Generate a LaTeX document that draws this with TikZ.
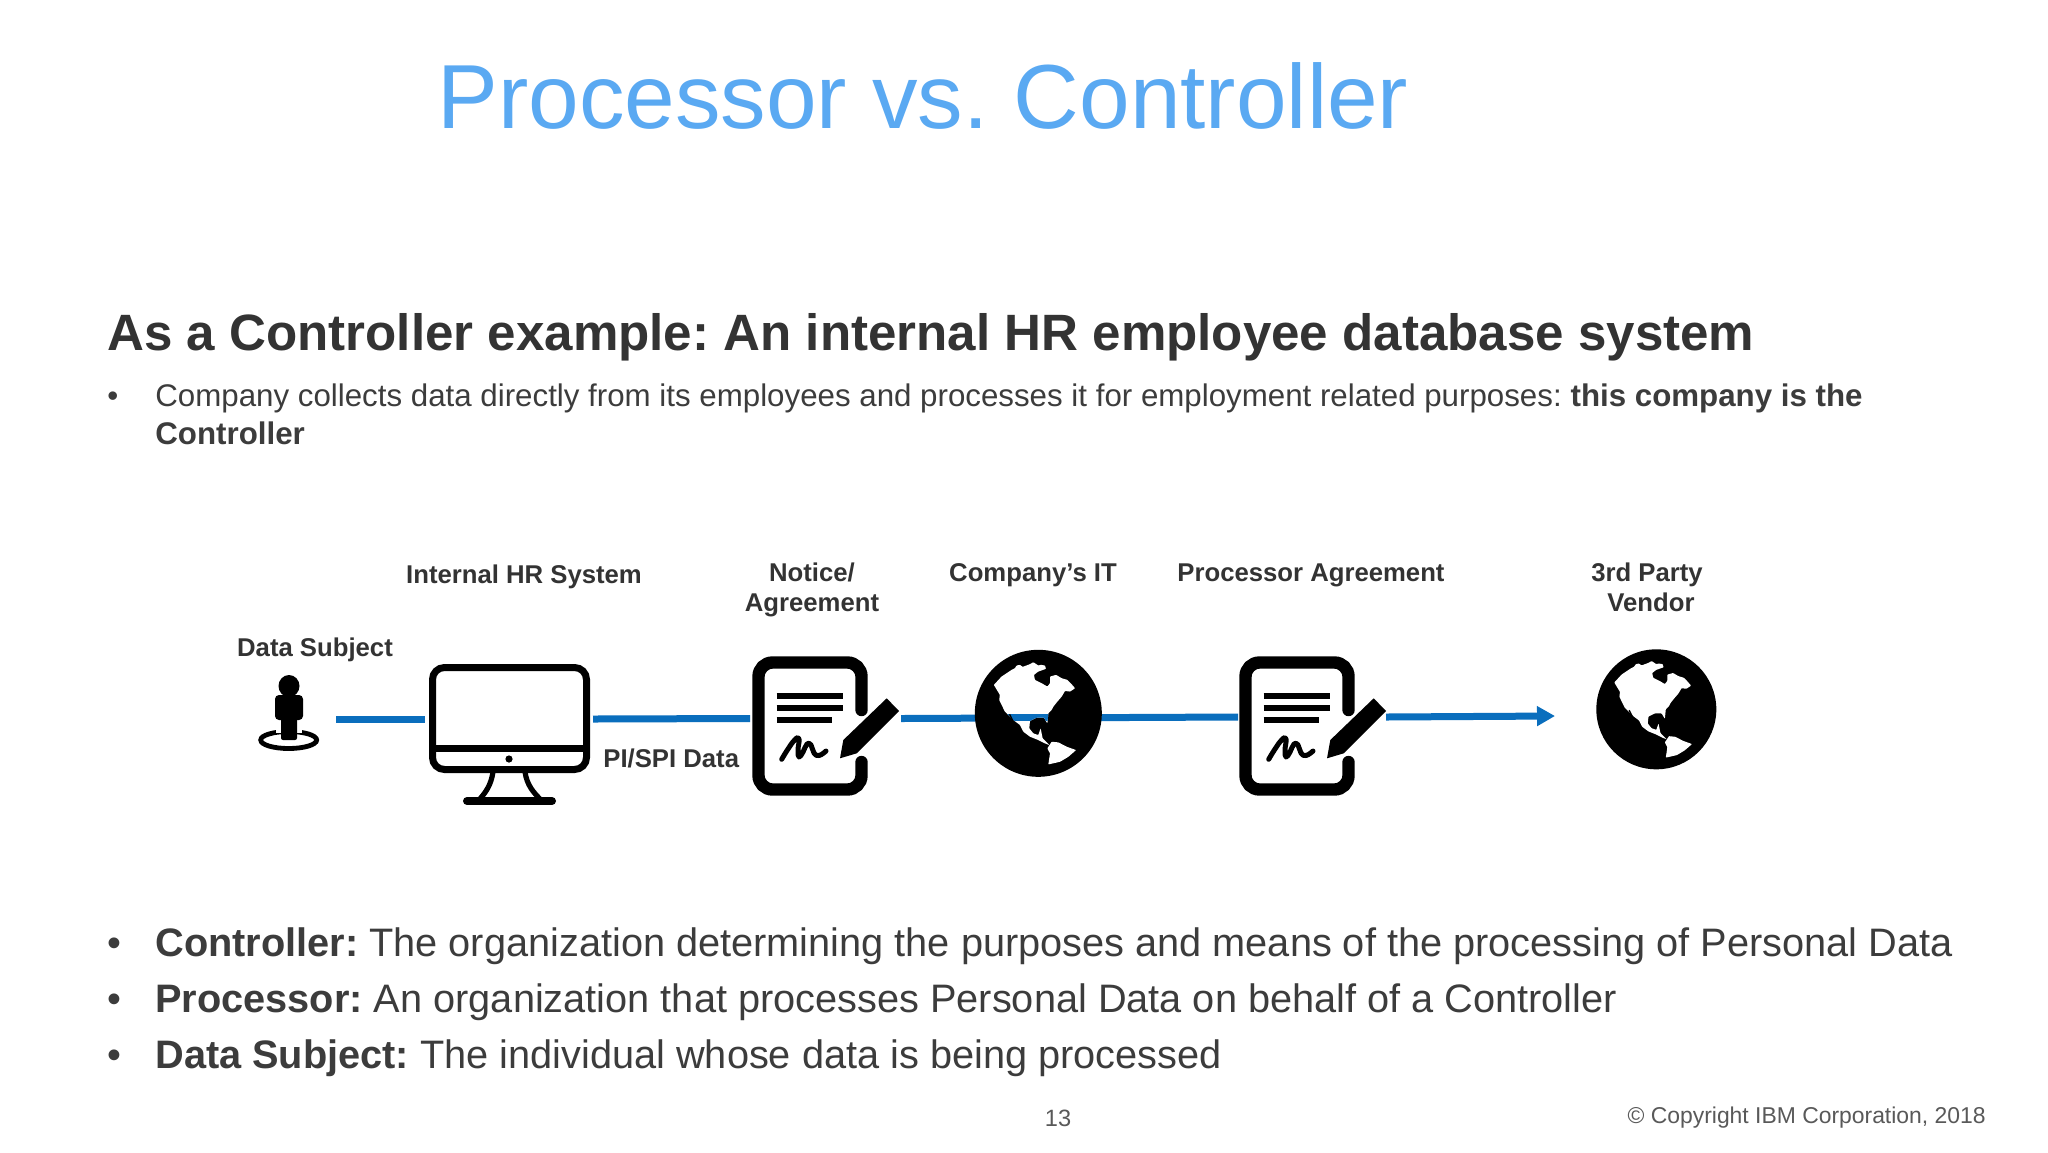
\documentclass[tikz,border=0pt]{standalone}
\usepackage{fontspec}
\setmainfont{Liberation Sans}
\usetikzlibrary{arrows.meta}
\definecolor{titleblue}{HTML}{5AA9F2}
\definecolor{inkgrey}{HTML}{333333}
\definecolor{bodygrey}{HTML}{3C3C3C}
\definecolor{flowblue}{HTML}{0A6EBD}
\tikzset{
  icon box/.style={inner sep=0pt,outer sep=0pt,minimum height=100pt},
  flow/.style={draw=flowblue,line width=3.5pt},
  flow end/.style={flow,-{Triangle[length=9pt,width=9.5pt]}},
  ink/.style={line width=#1,draw=black},
  label/.style={anchor=base,inner sep=0pt,text=inkgrey,font=\frenchspacing\fontsize{12.85}{15}\selectfont\bfseries},
  body/.style={anchor=base west,inner sep=0pt,text=bodygrey,font=\frenchspacing\fontsize{19.86}{24}\selectfont},
  small body/.style={anchor=base west,inner sep=0pt,text=bodygrey,font=\frenchspacing\fontsize{15.64}{19}\selectfont},
}
\newcommand\landnorth[1]{%
  \path[#1,rounded corners=0.3pt] (135,70)--(140,62)--(150,60)--(158,66)--(180,58)--(190,52)--(205,62)--(213,60)--(225,62)--(228,72)--(205,80)--(192,90)--(195,105)--(215,115)--(232,125)--(240,115)--(240,95)--(258,90)--(275,100)--(292,105)--(302,115)--(315,130)--(300,140)--(285,138)--(275,155)--(262,170)--(250,185)--(245,195)--(235,205)--(232,235)--(226,225)--(222,218)--(200,218)--(180,228)--(178,250)--(190,265)--(205,270)--(212,250)--(215,265)--(218,280)--(238,300)--(225,295)--(205,285)--(180,275)--(160,260)--(150,240)--(130,225)--(105,200)--(88,165)--(90,150)--(72,120)--(95,95)--(125,75)--cycle;}
\newcommand\landsouth[1]{%
  \path[#1,rounded corners=0.3pt] (245,290)--(265,292)--(290,305)--(318,315)--(295,335)--(270,350)--(235,358)--(240,325)--(232,310)--cycle;}
\newcommand\globeicon[4]{%
  \begin{scope}[shift={(#1,#2)},scale=#3/190,shift={(-205,-205)}]
    \fill[black] (205,205) circle[radius=190];
    \landnorth{fill=white}
    \landsouth{fill=white}
    #4
    \draw[ink=0.7pt] (119,208) -- (136,242);
  \end{scope}}
\newcommand\docicon[1]{%
  \begin{scope}[xshift=#1*0.5pt]
    \draw[ink=6.2pt,line cap=round,rounded corners=7pt] (861.5,710)--(861.5,662.5)--(758.5,662.5)--(758.5,789.5)--(861.5,789.5)--(861.5,762);
    \draw[ink=3pt] (776.7,695.7)--(843.3,695.7) (776.7,708)--(843.3,708) (776.7,720.3)--(831.7,720.3);
    \fill[black] (840,758.3)--(843.3,740)--(886.7,698.3)--(899,711)--(856.7,753.3)--cycle;
    \draw[ink=2.5pt,line cap=round,line join=round] plot[smooth,tension=.8] coordinates {(781.7,759.3)(788,749)(795,739.5)(799,739)(798,750)(799,757)(803,752)(807,744)(811,745)(814,753)(819,755.5)(826,751)};
  \end{scope}}
\begin{document}
\begin{tikzpicture}[x=0.5pt,y=-0.5pt]
\useasboundingbox (0,0) rectangle (2048,1152);
\fill[white] (0,0) rectangle (2048,1152);

% texts
\node[anchor=base west,inner sep=0pt,text=titleblue,font=\frenchspacing\fontsize{45.5}{50}\selectfont] (title) at (437,128) {Processor vs. Controller};
\node[anchor=base west,inner sep=0pt,text=inkgrey,font=\frenchspacing\fontsize{25.55}{30}\selectfont\bfseries] (heading) at (107,350) {As a Controller example: An internal HR employee database system};
\node[small body] (subbullet) at (107,406) {•};
\node[small body] (subone) at (155,406) {Company collects data directly from its employees and processes it for employment related purposes: \textbf{this company is the}};
\node[small body] (subtwo) at (155,444) {\textbf{Controller}};

\node[label] (lblhr) at (524,583) {Internal HR System};
\node[label] (lblnotice) at (812,581) {Notice/};
\node[label] (lblagree) at (812,611) {Agreement};
\node[label] (lblit) at (1033,581) {Company’s IT};
\node[label] (lblproc) at (1311,581) {Processor Agreement};
\node[label] (lblthird) at (1647,581) {3rd Party};
\node[label] (lblvendor) at (1651,611) {Vendor};
\node[label] (lblsubject) at (315,656) {Data Subject};
\node[label,anchor=base west] (lblpi) at (603,767) {PI/SPI Data};

\node[body] (bulletc) at (107,956) {•};
\node[body] (defc) at (155,956) {\textbf{Controller:} The organization determining the purposes and means of the processing of Personal Data};
\node[body] (bulletp) at (107,1012) {•};
\node[body] (defp) at (155,1012) {\textbf{Processor:} An organization that processes Personal Data on behalf of a Controller};
\node[body] (bullets) at (107,1068) {•};
\node[body] (defs) at (155,1068) {\textbf{Data Subject:} The individual whose data is being processed};

\node[anchor=base,inner sep=0pt,text=bodygrey!85,font=\fontsize{11.8}{14}\selectfont] (pageno) at (1058,1126) {13};
\node[anchor=base east,inner sep=0pt,text=bodygrey!85,font=\fontsize{11.45}{14}\selectfont] (copyright) at (1986,1123) {© Copyright IBM Corporation, 2018};

% invisible holders, whose sides are where the connectors stop
\node[icon box,minimum width=47pt] (subject) at (289,719) {};
\node[icon box,minimum width=84pt] (monitor) at (509,719) {};
\node[icon box,minimum width=75.5pt] (docone) at (825.5,718.5) {};
\node[icon box,minimum width=74pt] (doctwo) at (1312,717) {};
\node[icon box,minimum width=101pt] (vendor) at (1656,716) {};

% connectors
\draw[flow] (subject.east) -- (monitor.west);
\draw[flow] (monitor.east) -- (docone.west);
\draw[flow] (docone.east) -- (doctwo.west);
\draw[flow end] (doctwo.east) -- (vendor.west);

% person
\draw[ink=2.4pt] (288.7,740) ellipse[x radius=28,y radius=8.5];
\fill[white] (276,722) rectangle (302,733);
\fill[black] (289,686) ellipse[x radius=10.5,y radius=11];
\fill[black,rounded corners=2pt] (275,695) rectangle (303,720);
\fill[black,rounded corners=1pt] (281,715) rectangle (297,740);

% monitor
\draw[ink=3.5pt,rounded corners=6pt] (432.5,667.5) rectangle (586.5,769.5);
\draw[ink=3.5pt] (432.5,748) -- (586.5,748);
\fill[black] (509,759) circle[radius=3.6];
\draw[ink=2.6pt] (493,772) .. controls (491,785) and (486,792) .. (479,800);
\draw[ink=2.6pt] (525,772) .. controls (527,785) and (533,792) .. (541,800);
\draw[ink=4pt,line cap=round] (467,801) -- (552,801);

% documents
\docicon{0}
\docicon{487}

% globes
\globeicon{1038.3}{713.3}{63.5}{\begin{scope}\landnorth{clip}\fill[flowblue] (0,207) rectangle (420,227);\end{scope}}
\globeicon{1656.3}{709.3}{60}{}
\end{tikzpicture}
\end{document}
